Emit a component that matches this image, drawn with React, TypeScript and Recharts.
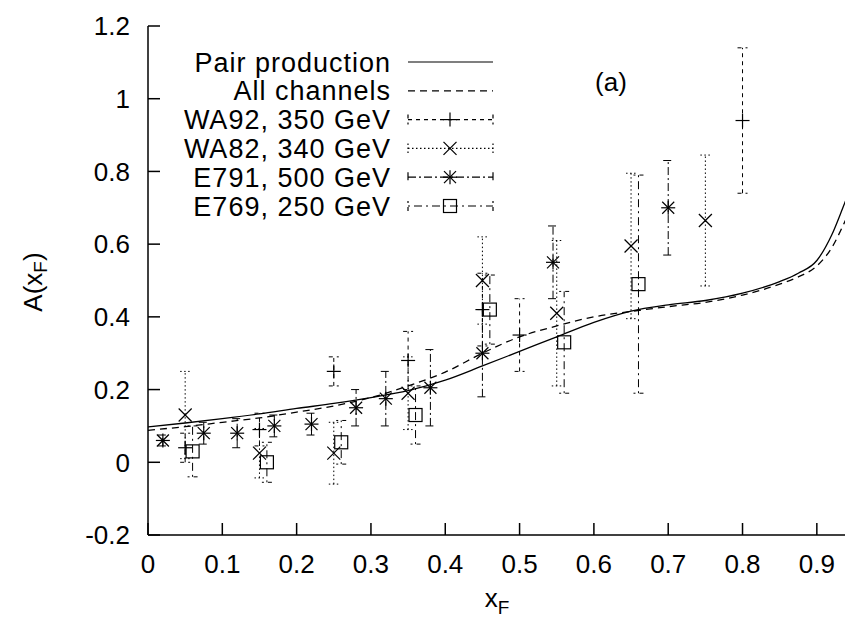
import React from 'react';
import { ComposedChart, Line, Scatter, ErrorBar, XAxis, YAxis, Label } from 'recharts';

// ---- data ----
const curveX = [0, 0.05, 0.1, 0.15, 0.2, 0.25, 0.3, 0.35, 0.4, 0.45, 0.5, 0.55, 0.6, 0.65, 0.7, 0.75, 0.8, 0.85, 0.875, 0.9, 0.92, 0.935, 0.95];
const pairY = [0.097, 0.108, 0.12, 0.133, 0.148, 0.162, 0.178, 0.197, 0.226, 0.265, 0.305, 0.345, 0.385, 0.416, 0.433, 0.445, 0.465, 0.497, 0.52, 0.555, 0.625, 0.7, 0.78];
const allY = [0.088, 0.098, 0.11, 0.122, 0.138, 0.155, 0.178, 0.21, 0.248, 0.3, 0.345, 0.375, 0.4, 0.415, 0.428, 0.44, 0.46, 0.49, 0.51, 0.54, 0.59, 0.65, 0.72];

const wa92X = [0.05, 0.15, 0.25, 0.35, 0.45, 0.5, 0.8];
const wa92Y = [0.04, 0.09, 0.25, 0.28, 0.42, 0.35, 0.94];
const wa92Err = [0.04, 0.045, 0.04, 0.08, 0.1, 0.1, 0.2];

const wa82X = [0.05, 0.15, 0.25, 0.35, 0.45, 0.55, 0.65, 0.75];
const wa82Y = [0.13, 0.025, 0.025, 0.19, 0.5, 0.41, 0.595, 0.665];
const wa82Err = [0.12, 0.068, 0.085, 0.1, 0.12, 0.2, 0.2, 0.18];

const e791X = [0.02, 0.075, 0.12, 0.17, 0.22, 0.28, 0.32, 0.38, 0.45, 0.545, 0.7];
const e791Y = [0.06, 0.08, 0.08, 0.1, 0.105, 0.15, 0.175, 0.205, 0.3, 0.55, 0.7];
const e791Err = [0.015, 0.03, 0.04, 0.03, 0.03, 0.05, 0.075, 0.105, 0.12, 0.1, 0.13];

const e769X = [0.06, 0.16, 0.26, 0.36, 0.46, 0.56, 0.66];
const e769Y = [0.03, 0.0, 0.055, 0.13, 0.42, 0.33, 0.49];
const e769Err = [0.07, 0.055, 0.06, 0.08, 0.095, 0.14, 0.3];

const xTicks = [0, 0.1, 0.2, 0.3, 0.4, 0.5, 0.6, 0.7, 0.8, 0.9];
const yTicks = [-0.2, 0, 0.2, 0.4, 0.6, 0.8, 1, 1.2];

const legendLabels = ['Pair production', 'All channels', 'WA92, 350 GeV', 'WA82, 340 GeV', 'E791, 500 GeV', 'E769, 250 GeV'];

// ---- helpers ----
const curve = (xs: number[], ys: number[]) => xs.map((x, i) => ({ x, y: ys[i] }));
const pts = (xs: number[], ys: number[], es: number[]) => xs.map((x, i) => ({ x, y: ys[i], e: es[i] }));

const FONT = '"Liberation Sans", Arial, Helvetica, sans-serif';
const FS = 26;
const SW = 1.2;

const dashWA92 = '4 4';
const dashWA82 = '1.5 2.5';
const dashE791 = '8 3 2 3';
const dashE769 = '2 4 8 4';

const PlusM = ({ cx, cy }: any) => (
  <g stroke="#000" strokeWidth={SW}>
    <line x1={cx - 7} y1={cy} x2={cx + 7} y2={cy} />
    <line x1={cx} y1={cy - 7} x2={cx} y2={cy + 7} />
  </g>
);
const CrossM = ({ cx, cy }: any) => (
  <g stroke="#000" strokeWidth={SW}>
    <line x1={cx - 6.5} y1={cy - 6.5} x2={cx + 6.5} y2={cy + 6.5} />
    <line x1={cx - 6.5} y1={cy + 6.5} x2={cx + 6.5} y2={cy - 6.5} />
  </g>
);
const StarM = ({ cx, cy }: any) => (
  <g stroke="#000" strokeWidth={SW}>
    <line x1={cx - 7} y1={cy} x2={cx + 7} y2={cy} />
    <line x1={cx} y1={cy - 7} x2={cx} y2={cy + 7} />
    <line x1={cx - 6} y1={cy - 6} x2={cx + 6} y2={cy + 6} />
    <line x1={cx - 6} y1={cy + 6} x2={cx + 6} y2={cy - 6} />
  </g>
);
const SquareM = ({ cx, cy }: any) => (
  <rect x={cx - 6.5} y={cy - 6.5} width={13} height={13} fill="none" stroke="#000" strokeWidth={SW} />
);

const markers = [null, null, PlusM, CrossM, StarM, SquareM];
const legendDash = ['', '7 5', dashWA92, dashWA82, dashE791, dashE769];

const XTitle = () => (
  <text x={497} y={607} fontFamily={FONT} fontSize={FS} fill="#000" textAnchor="middle">
    x<tspan dy={7} fontSize={19}>F</tspan>
  </text>
);
const YTitle = () => (
  <text x={33} y={282} transform="rotate(-90, 33, 282)" fontFamily={FONT} fontSize={FS} fill="#000" textAnchor="middle" dominantBaseline="central">
    A(x<tspan dy={7} fontSize={19}>F</tspan><tspan dy={-7}>)</tspan>
  </text>
);

const Overlay = () => {
  const rowY = (i: number) => 62 + i * 28.8;
  const x0 = 408;
  const x1 = 493;
  const xm = 450;
  return (
    <svg width={845} height={624} style={{ position: 'absolute', left: 0, top: 0, pointerEvents: 'none' }}>
      {legendLabels.map((lab, i) => {
        const y = rowY(i);
        const M = markers[i] as any;
        return (
          <g key={lab}>
            <text x={391} y={y + 9.5} textAnchor="end" fontFamily={FONT} fontSize={27} letterSpacing={1} fill="#000">{lab}</text>
            <line x1={x0} y1={y} x2={x1} y2={y} stroke="#000" strokeWidth={SW} strokeDasharray={legendDash[i] || undefined} />
            {i >= 2 && (
              <g stroke="#000" strokeWidth={SW} strokeDasharray={legendDash[i]}>
                <line x1={x0} y1={y - 5} x2={x0} y2={y + 5} />
                <line x1={x1} y1={y - 5} x2={x1} y2={y + 5} />
              </g>
            )}
            {M && <M cx={xm} cy={y} />}
          </g>
        );
      })}
      <text x={611} y={91} textAnchor="middle" fontFamily={FONT} fontSize={FS} fill="#000">(a)</text>
    </svg>
  );
};

export default function App() {
  const tickStyle = { fontFamily: FONT, fontSize: FS, fill: '#000' };
  return (
    <div style={{ position: 'absolute', left: 0, top: 0, width: 845, height: 624, overflow: 'hidden', background: '#fff' }}>
      <ComposedChart width={870} height={624} margin={{ top: 26, right: 16, bottom: 29, left: 0 }}>
        <XAxis
          type="number"
          dataKey="x"
          domain={[0, 0.95]}
          ticks={xTicks}
          allowDataOverflow
          height={60}
          tickSize={-12}
          tickMargin={32}
          tick={tickStyle}
          stroke="#000"
          axisLine={{ stroke: '#000', strokeWidth: 1.5 }}
          tickLine={{ stroke: '#000', strokeWidth: 1.5 }}
        >
          <Label content={XTitle} />
        </XAxis>
        <XAxis
          xAxisId="top"
          orientation="top"
          type="number"
          dataKey="x"
          domain={[0, 0.95]}
          ticks={xTicks}
          allowDataOverflow
          height={0}
          tickSize={-12}
          tick={false}
          axisLine={{ stroke: '#000', strokeWidth: 1.5 }}
          tickLine={{ stroke: '#000', strokeWidth: 1.5 }}
        />
        <YAxis
          type="number"
          dataKey="y"
          domain={[-0.2, 1.2]}
          ticks={yTicks}
          allowDataOverflow
          width={148}
          tickSize={-12}
          tickMargin={30}
          tick={tickStyle}
          axisLine={{ stroke: '#000', strokeWidth: 1.5 }}
          tickLine={{ stroke: '#000', strokeWidth: 1.5 }}
        >
          <Label content={YTitle} />
        </YAxis>
        <YAxis
          yAxisId="right"
          orientation="right"
          type="number"
          domain={[-0.2, 1.2]}
          ticks={yTicks}
          allowDataOverflow
          width={0}
          tickSize={-12}
          tick={false}
          axisLine={{ stroke: '#000', strokeWidth: 1.5 }}
          tickLine={{ stroke: '#000', strokeWidth: 1.5 }}
        />
        <Line data={curve(curveX, pairY)} dataKey="y" type="monotone" stroke="#000" strokeWidth={1.3} dot={false} isAnimationActive={false} />
        <Line data={curve(curveX, allY)} dataKey="y" type="monotone" stroke="#000" strokeWidth={1.3} strokeDasharray="7 5" dot={false} isAnimationActive={false} />
        <Scatter data={pts(wa92X, wa92Y, wa92Err)} dataKey="y" shape={PlusM} isAnimationActive={false}>
          <ErrorBar dataKey="e" direction="y" width={5} stroke="#000" strokeWidth={1} strokeDasharray={dashWA92} />
        </Scatter>
        <Scatter data={pts(wa82X, wa82Y, wa82Err)} dataKey="y" shape={CrossM} isAnimationActive={false}>
          <ErrorBar dataKey="e" direction="y" width={5} stroke="#000" strokeWidth={1} strokeDasharray={dashWA82} />
        </Scatter>
        <Scatter data={pts(e791X, e791Y, e791Err)} dataKey="y" shape={StarM} isAnimationActive={false}>
          <ErrorBar dataKey="e" direction="y" width={5} stroke="#000" strokeWidth={1} strokeDasharray={dashE791} />
        </Scatter>
        <Scatter data={pts(e769X, e769Y, e769Err)} dataKey="y" shape={SquareM} isAnimationActive={false}>
          <ErrorBar dataKey="e" direction="y" width={5} stroke="#000" strokeWidth={1} strokeDasharray={dashE769} />
        </Scatter>
      </ComposedChart>
      <Overlay />
    </div>
  );
}
